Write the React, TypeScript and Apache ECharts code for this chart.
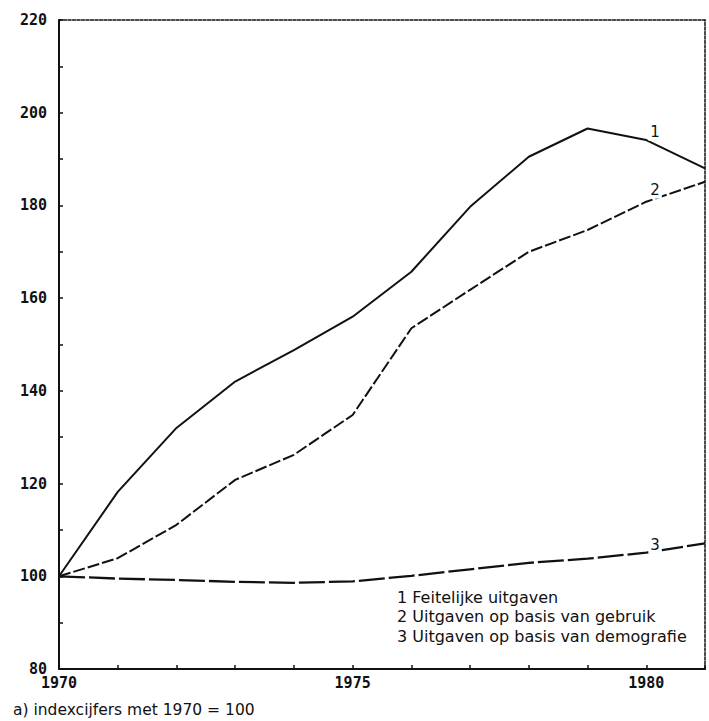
import React, { useEffect, useRef } from "react";
import * as echarts from "echarts";

const years = [1970, 1971, 1972, 1973, 1974, 1975, 1976, 1977, 1978, 1979, 1980, 1981];
const feitelijk = [100, 118.2, 132.0, 142.0, 148.8, 156.0, 165.7, 179.7, 190.5, 196.6, 194.1, 188.0];
const gebruik = [100, 103.9, 111.1, 120.8, 126.2, 134.8, 153.5, 161.8, 170.0, 174.7, 180.8, 185.1];
const demografie = [100, 99.5, 99.2, 98.8, 98.6, 98.9, 100.1, 101.5, 102.9, 103.8, 105.1, 107.1];
const xTickLabels = [1970, 1975, 1980];
const yTickLabels = [80, 100, 120, 140, 160, 180, 200, 220];
const legendLines = [
  "1 Feitelijke uitgaven",
  "2 Uitgaven op basis van gebruik",
  "3 Uitgaven op basis van demografie",
];
const footnote = "a) indexcijfers met 1970 = 100";
const seriesTags = [
  { name: "1", x: 1980.15, y: 195.8 },
  { name: "2", x: 1980.15, y: 183.3 },
  { name: "3", x: 1980.15, y: 106.7 },
];

const mono = "'DejaVu Sans Mono', monospace";
const sans = "'DejaVu Sans', sans-serif";

function pairs(vals: number[]) {
  return years.map((y, i) => [y, vals[i]]);
}

function tag(i: number) {
  const t = seriesTags[i];
  return {
    symbol: "circle",
    symbolSize: 0,
    data: [
      {
        coord: [t.x, t.y],
        label: {
          show: true,
          formatter: t.name,
          position: "inside",
          color: "#111",
          fontFamily: sans,
          fontSize: 15,
          backgroundColor: "#fff",
          padding: [1, 2],
        },
      },
    ],
  };
}

export default function App() {
  const ref = useRef<HTMLDivElement>(null);
  useEffect(() => {
    if (!ref.current) return;
    const chart = echarts.init(ref.current, undefined, { renderer: "svg" });
    chart.setOption({
      animation: false,
      backgroundColor: "#fff",
      grid: { left: 59, top: 20, right: 4, bottom: 52 },
      xAxis: [
        {
          type: "value",
          min: 1970,
          max: 1981,
          interval: 1,
          axisLine: { show: true, lineStyle: { color: "#111", width: 2 } },
          axisTick: { show: true, inside: true, length: 4, lineStyle: { color: "#111", width: 1.5 } },
          splitLine: { show: false },
          axisLabel: {
            margin: 6,
            color: "#111",
            fontFamily: mono,
            fontWeight: "bold",
            fontSize: 15,
            formatter: (v: number) => (xTickLabels.includes(v) ? String(v) : ""),
          },
        },
        {
          type: "value",
          position: "top",
          min: 1970,
          max: 1981,
          interval: 1,
          axisLine: { show: true, lineStyle: { color: "#111", width: 1.5, type: [3, 1.5] } },
          axisTick: { show: false },
          axisLabel: { show: false },
          splitLine: { show: false },
        },
      ],
      yAxis: [
        {
          type: "value",
          min: 80,
          max: 220,
          interval: 10,
          axisLine: { show: true, lineStyle: { color: "#111", width: 2 } },
          axisTick: { show: true, inside: true, length: 4, lineStyle: { color: "#111", width: 1.5 } },
          splitLine: { show: false },
          axisLabel: {
            margin: 12,
            color: "#111",
            fontFamily: mono,
            fontWeight: "bold",
            fontSize: 15,
            formatter: (v: number) => (yTickLabels.includes(v) ? String(v) : ""),
          },
        },
        {
          type: "value",
          position: "right",
          min: 80,
          max: 220,
          interval: 10,
          axisLine: { show: true, lineStyle: { color: "#111", width: 1.5, type: [3, 1.5] } },
          axisTick: { show: false },
          axisLabel: { show: false },
          splitLine: { show: false },
        },
      ],
      series: [
        {
          name: legendLines[0],
          type: "line",
          data: pairs(feitelijk),
          symbol: "none",
          lineStyle: { color: "#111", width: 2 },
          markPoint: tag(0),
          z: 3,
        },
        {
          name: legendLines[1],
          type: "line",
          data: pairs(gebruik),
          symbol: "none",
          lineStyle: { color: "#111", width: 2, type: [12, 3] },
          markPoint: tag(1),
          z: 3,
        },
        {
          name: legendLines[2],
          type: "line",
          data: pairs(demografie),
          symbol: "none",
          lineStyle: { color: "#111", width: 2.3, type: [26, 4] },
          markPoint: tag(2),
          z: 3,
        },
      ],
      graphic: [
        ...legendLines.map((t, i) => ({
          type: "text",
          left: 397,
          top: 589 + i * 19.5,
          style: { text: t, fill: "#111", font: `16px ${sans}` },
        })),
        {
          type: "text",
          left: 13,
          top: 702,
          style: { text: footnote, fill: "#111", font: `15.5px ${sans}` },
        },
      ],
    });
    return () => chart.dispose();
  }, []);
  return (
    <div
      ref={ref}
      style={{ position: "fixed", left: 0, top: 0, width: 709, height: 721 }}
    />
  );
}
